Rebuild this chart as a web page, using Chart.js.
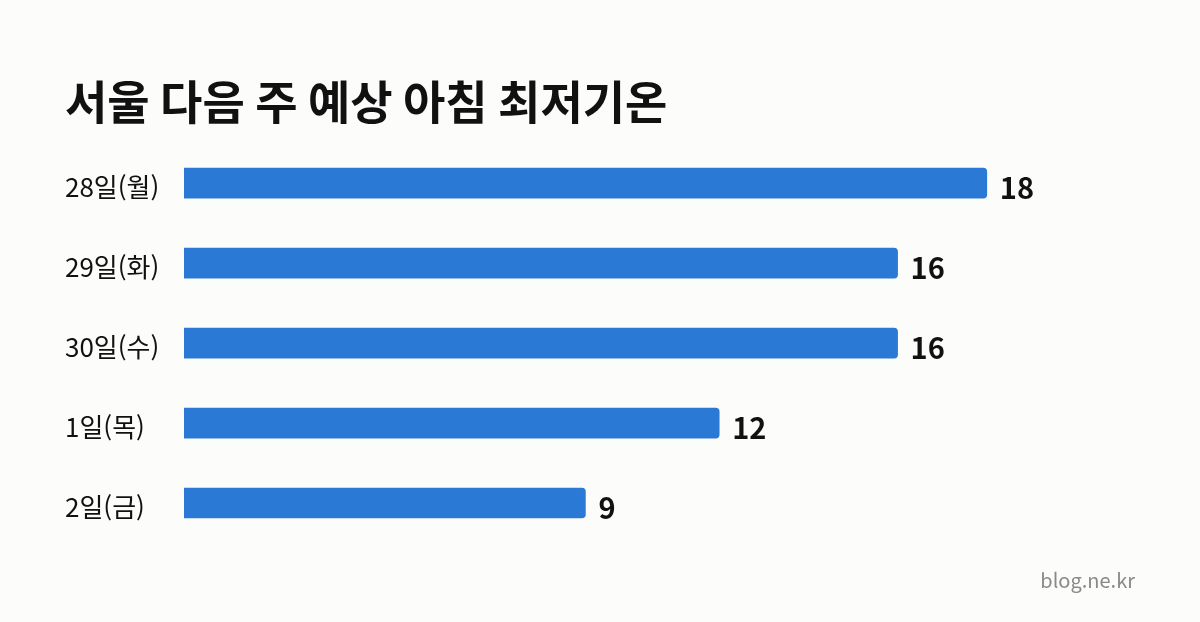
<!DOCTYPE html>
<html lang="ko">

<head>
    <meta charset="UTF-8">
    <title>서울 다음 주 예상 아침 최저기온</title>
    <script src="https://cdn.jsdelivr.net/npm/chart.js"></script>
    <style>
        html, body { margin: 0; padding: 0; background: #fcfcfa; }
        #wrap { position: relative; width: 1200px; height: 622px; }
        #footer {
            position: absolute; right: 65px; top: 565px;
            font-family: "Noto Sans CJK KR", "Noto Sans", sans-serif;
            font-size: 20px; color: #8a8a8a;
        }
    </style>
</head>

<body>
    <div id="wrap">
        <canvas id="tempChart" width="1200" height="622"></canvas>
        <div id="footer">blog.ne.kr</div>
    </div>

    <script>
        // 데이터
        const days = ['28일(월)', '29일(화)', '30일(수)', '1일(목)', '2일(금)'];
        const lowTemps = [18, 16, 16, 12, 9];

        const FONT = '"Noto Sans CJK KR", "Noto Sans", sans-serif';

        // 막대 끝에 값 표시
        const valueLabels = {
            id: 'valueLabels',
            afterDatasetsDraw(chart) {
                const ctx = chart.ctx;
                const meta = chart.getDatasetMeta(0);
                ctx.save();
                ctx.font = 'bold 29px ' + FONT;
                ctx.fillStyle = '#111';
                ctx.textAlign = 'left';
                ctx.textBaseline = 'middle';
                meta.data.forEach((bar, i) => {
                    ctx.fillText(lowTemps[i], bar.x + 13, bar.y + 5);
                });
                ctx.restore();
            }
        };

        new Chart(document.getElementById('tempChart'), {
            type: 'bar',
            data: {
                labels: days,
                datasets: [{
                    data: lowTemps,
                    backgroundColor: '#2979d5',
                    barThickness: 30,
                    borderRadius: 4
                }]
            },
            options: {
                indexAxis: 'y',
                responsive: false,
                animation: false,
                layout: { padding: { left: 65, right: 124, bottom: 79 } },
                plugins: {
                    legend: { display: false },
                    tooltip: { enabled: false },
                    title: {
                        display: true,
                        text: '서울 다음 주 예상 아침 최저기온',
                        align: 'start',
                        color: '#111',
                        font: { family: FONT, size: 46, weight: 'bold' },
                        padding: { top: 74, bottom: 14 }
                    }
                },
                scales: {
                    x: {
                        display: false,
                        min: 0,
                        max: 20
                    },
                    y: {
                        grid: { display: false },
                        border: { display: false },
                        afterFit(scale) { scale.width = 119; },
                        ticks: {
                            crossAlign: 'far',
                            color: '#111',
                            padding: 0,
                            labelOffset: 4,
                            font: { family: FONT, size: 26 }
                        }
                    }
                }
            },
            plugins: [valueLabels]
        });
    </script>
</body>

</html>
